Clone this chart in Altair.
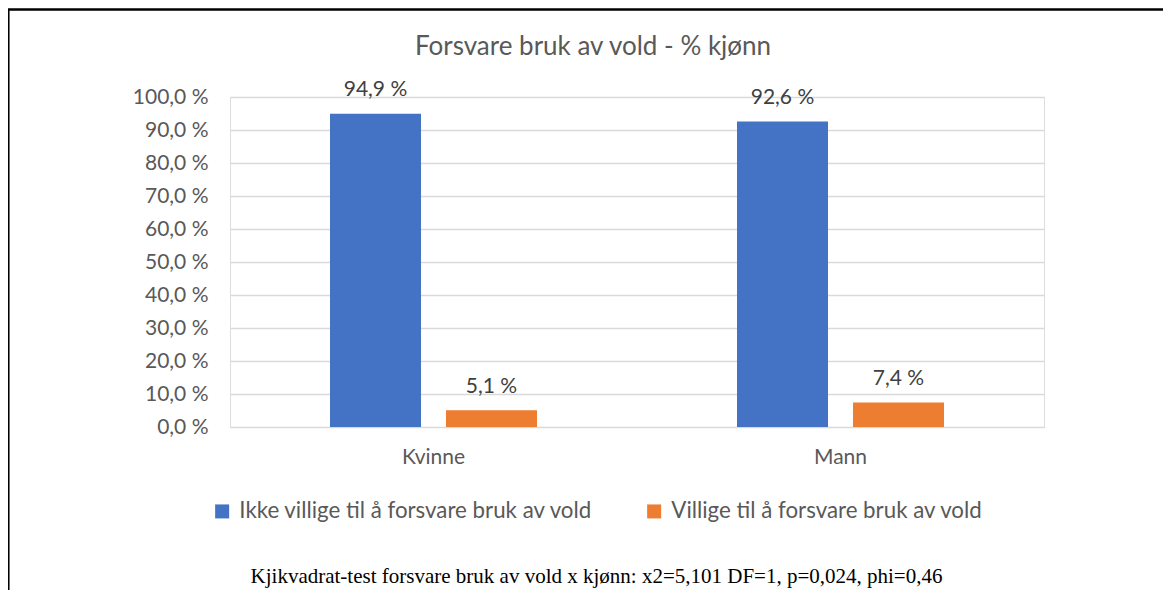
import altair as alt
import pandas as pd

TITLE = "Forsvare bruk av vold - % kjønn"
CAPTION = "Kjikvadrat-test forsvare bruk av vold x kjønn: x2=5,101 DF=1, p=0,024, phi=0,46"
categories = ["Kvinne", "Mann"]
series = ["Ikke villige til å forsvare bruk av vold", "Villige til å forsvare bruk av vold"]
ikke_villige = [94.9, 92.6]
villige = [5.1, 7.4]
colors = ["#4472C4", "#ED7D31"]
y_ticks = [0, 10, 20, 30, 40, 50, 60, 70, 80, 90, 100]

rows = []
for i, c in enumerate(categories):
    rows.append({"kjonn": c, "serie": series[0], "verdi": ikke_villige[i],
                 "lbl": f"{ikke_villige[i]:.1f}".replace(".", ",") + " %"})
    rows.append({"kjonn": c, "serie": series[1], "verdi": villige[i],
                 "lbl": f"{villige[i]:.1f}".replace(".", ",") + " %"})
df = pd.DataFrame(rows)

FONT = "Lato"
GREY = "#595959"
W, H = 814, 330

x_enc = alt.X("kjonn:N", sort=categories,
              scale=alt.Scale(paddingInner=0, paddingOuter=0),
              axis=alt.Axis(title=None, labelAngle=0, ticks=False, domain=False,
                            labelPadding=19, labelFontSize=21, labelFont=FONT,
                            labelColor=GREY, grid=False))
xo_enc = alt.XOffset("serie:N", sort=series,
                     scale=alt.Scale(paddingInner=0.2155, paddingOuter=0.862))
y_enc = alt.Y("verdi:Q",
              scale=alt.Scale(domain=[0, 100], nice=False),
              axis=alt.Axis(title=None, values=y_ticks, ticks=False, domain=False,
                            labelExpr="replace(format(datum.value, '.1f'), '.', ',') + ' %'",
                            labelPadding=22, labelFontSize=21, labelFont=FONT,
                            labelColor=GREY, gridColor="#d9d9d9", gridWidth=1.5))

base = alt.Chart(df)

bars = base.mark_bar().encode(
    x=x_enc, xOffset=xo_enc, y=y_enc,
    color=alt.Color("serie:N", sort=series,
                    scale=alt.Scale(domain=series, range=colors),
                    legend=alt.Legend(title=None, orient="none", direction="horizontal",
                                      legendX=-19, legendY=403,
                                      symbolType="square", symbolSize=196,
                                      symbolStrokeWidth=0, labelLimit=600,
                                      labelFontSize=22.3, labelFont=FONT, labelColor=GREY,
                                      labelOffset=6, columnPadding=50)),
)

labels = base.mark_text(baseline="alphabetic", dy=-17.5, fontSize=21, font=FONT,
                        color="#404040").encode(
    x=x_enc, xOffset=xo_enc, y=y_enc, text="lbl:N")

title = alt.Chart(pd.DataFrame({"t": [TITLE]})).mark_text(
    fontSize=26, font=FONT, color=GREY, baseline="middle", align="center").encode(
    text="t:N", x=alt.value(363), y=alt.value(-50))

caption = alt.Chart(pd.DataFrame({"t": [CAPTION]})).mark_text(
    fontSize=21, font="Liberation Serif", color="black", baseline="middle",
    align="center").encode(
    text="t:N", x=alt.value(366.5), y=alt.value(480))

frame = alt.Chart(pd.DataFrame({"a": [0]})).mark_rect(
    fillOpacity=0, stroke="black", strokeWidth=2.5).encode(
    x=alt.value(-221.7), x2=alt.value(3000), y=alt.value(-87.5), y2=alt.value(3000))

chart = alt.layer(bars, labels, title, caption, frame).properties(
    width=W, height=H,
    autosize=alt.AutoSizeParams(type="none"),
    padding={"left": 222, "top": 89, "right": 119, "bottom": 163},
).configure_view(stroke=None).configure(background="white")

chart.save("out.html", embed_options={"renderer": "svg", "actions": False})
